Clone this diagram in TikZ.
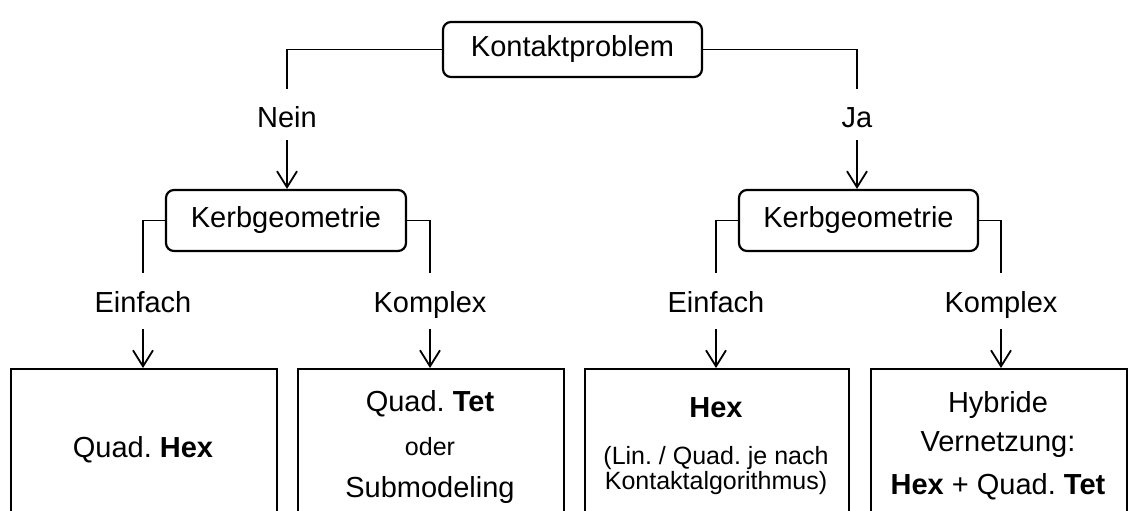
\documentclass[tikz,border=0pt]{standalone}
\usepackage{fontspec}
\setmainfont{Liberation Sans}
\usetikzlibrary{arrows.meta}
\frenchspacing
\begin{document}
\begin{tikzpicture}[x=1pt,y=-1pt,
  conn/.style={line width=1.8pt},
  arr/.style={line width=1.8pt,-{Straight Barb[length=16pt,width=20pt]}},
  rbox/.style={draw,line width=2.2pt,rounded corners=8pt,inner sep=0pt,font=\fontsize{29}{34}\selectfont},
  sbox/.style={draw,line width=2.4pt,inner sep=0pt,anchor=north west,minimum height=220pt},
  lbl/.style={inner sep=0pt,anchor=base,text height=21pt,text depth=0pt,font=\fontsize{29}{34}\selectfont},
  sml/.style={inner sep=0pt,anchor=base,text height=18pt,text depth=0pt,font=\fontsize{25}{29}\selectfont},
]
\useasboundingbox (0,0) rectangle (1130,511);
\clip (0,0) rectangle (1130,511);

% top decision
\node[rbox,minimum width=259pt,minimum height=55pt] (top) at (572.5,49.5) {Kontaktproblem};
\node[lbl] (nein) at (287,127) {Nein};
\node[lbl] (ja) at (857,127) {Ja};

% second level
\node[rbox,minimum width=240pt,minimum height=61pt] (kl) at (286,220.5) {Kerbgeometrie};
\node[rbox,minimum width=239pt,minimum height=61pt] (kr) at (858.5,220.5) {Kerbgeometrie};

\node[lbl] (e1) at (143,312) {Einfach};
\node[lbl] (k1) at (430,312) {Komplex};
\node[lbl] (e2) at (716,312) {Einfach};
\node[lbl] (k2) at (1001,312) {Komplex};

% bottom boxes
\node[sbox,minimum width=266pt] (b1) at (10,368) {};
\node[sbox,minimum width=266pt] (b2) at (297,368) {};
\node[sbox,minimum width=264pt] (b3) at (584,368) {};
\node[sbox,minimum width=256pt] (b4) at (870,368) {};

% box texts
\node[lbl] (b1a) at (143,457) {Quad. \textbf{Hex}};
\node[lbl] (b2a) at (430,411) {Quad. \textbf{Tet}};
\node[sml] (b2b) at (430,455) {oder};
\node[lbl] (b2c) at (430,497) {Submodeling};
\node[lbl] (b3a) at (716,417) {\textbf{Hex}};
\node[sml] (b3b) at (716,464) {(Lin. / Quad. je nach};
\node[sml] (b3c) at (716,489) {Kontaktalgorithmus)};
\node[lbl] (b4a) at (998,412) {Hybride};
\node[lbl] (b4b) at (998,451) {Vernetzung:};
\node[lbl] (b4c) at (998,494) {\textbf{Hex} + Quad. \textbf{Tet}};

% connectors
\draw[conn,shorten >=17pt] (top.west) -| (nein.north);
\draw[conn,shorten >=17pt] (top.east) -| (ja.north);
\draw[arr,shorten <=13pt] (nein.south) -- (nein.south |- kl.north);
\draw[arr,shorten <=13pt] (ja.south) -- (ja.south |- kr.north);

\draw[conn,shorten >=18pt] (kl.west) -| (e1.north);
\draw[conn,shorten >=18pt] (kl.east) -| (k1.north);
\draw[conn,shorten >=18pt] (kr.west) -| (e2.north);
\draw[conn,shorten >=18pt] (kr.east) -| (k2.north);

\draw[arr,shorten <=17pt] (e1.south) -- (e1.south |- b1.north);
\draw[arr,shorten <=17pt] (k1.south) -- (k1.south |- b2.north);
\draw[arr,shorten <=17pt] (e2.south) -- (e2.south |- b3.north);
\draw[arr,shorten <=17pt] (k2.south) -- (k2.south |- b4.north);
\end{tikzpicture}
\end{document}
